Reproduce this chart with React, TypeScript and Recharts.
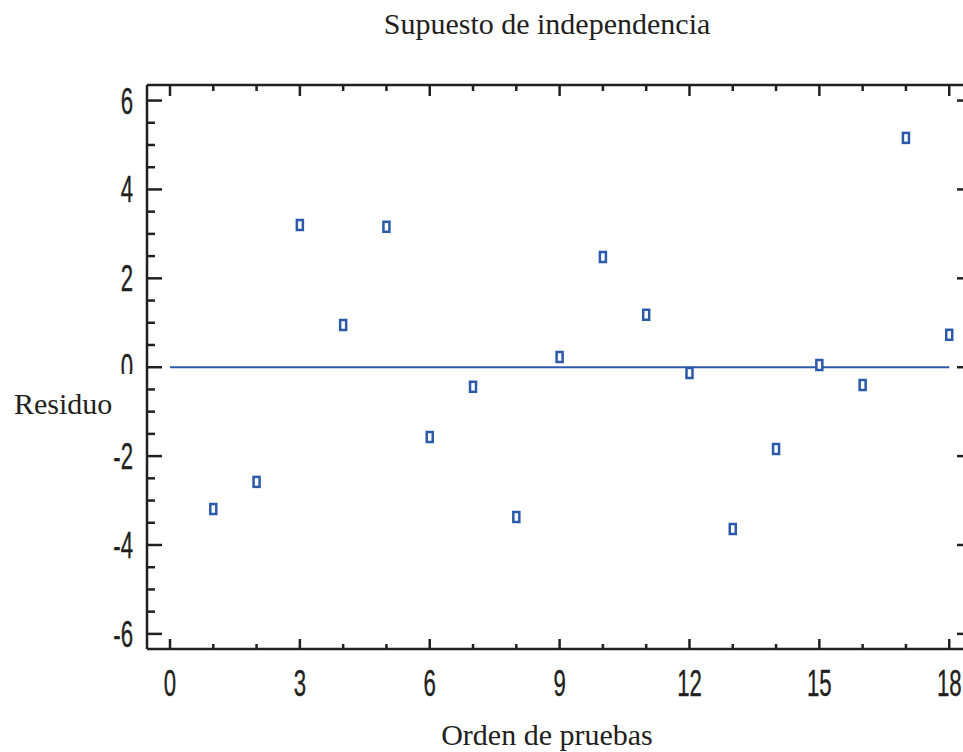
import React from 'react';
import { ScatterChart, Scatter, XAxis, YAxis, ReferenceLine } from 'recharts';

// run order 1..18 and the residual at each run
const runOrder = [1, 2, 3, 4, 5, 6, 7, 8, 9, 10, 11, 12, 13, 14, 15, 16, 17, 18];
const residuals = [-3.19, -2.58, 3.2, 0.95, 3.16, -1.57, -0.44, -3.37, 0.23, 2.48, 1.18, -0.13, -3.64, -1.84, 0.05, -0.4, 5.16, 0.73];

const xTicks = [0, 1, 2, 3, 4, 5, 6, 7, 8, 9, 10, 11, 12, 13, 14, 15, 16, 17, 18];
const yTicks = [-6, -5.5, -5, -4.5, -4, -3.5, -3, -2.5, -2, -1.5, -1, -0.5, 0, 0.5, 1, 1.5, 2, 2.5, 3, 3.5, 4, 4.5, 5, 5.5, 6];

const data = runOrder.map((x, i) => ({ x, y: residuals[i] }));

const INK = '#231f20';
const BLUE = '#2c5aab';
const NUM_FONT = '"Liberation Sans", Arial, sans-serif';
const SERIF = '"Liberation Serif", "Times New Roman", serif';
// condensed sans look for the tick numbers
const NUM_SIZE = 37;
const SQUEEZE = 0.6;

const isMajorX = (v: number) => v % 3 === 0;
const isMajorY = (v: number) => v % 2 === 0;

const NarrowText = ({ x, y, anchor, children }: any) => (
  <text
    transform={`translate(${x},${y}) scale(${SQUEEZE},1)`}
    textAnchor={anchor}
    fontFamily={NUM_FONT}
    fontSize={NUM_SIZE}
    fill={INK}
    stroke={INK}
    strokeWidth={0.4}
  >
    {children}
  </text>
);

// bottom axis: ticks point up into the plot, labels below
const BottomTick = ({ x, y, payload }: any) => {
  const major = isMajorX(payload.value);
  return (
    <g>
      <line x1={x} x2={x} y1={y} y2={y - (major ? 10 : 5)} stroke={INK} strokeWidth={2.5} />
      {major && <NarrowText x={x} y={y + 47} anchor="middle">{payload.value}</NarrowText>}
    </g>
  );
};

const TopTick = ({ x, y, payload }: any) => {
  const major = isMajorX(payload.value);
  return <line x1={x} x2={x} y1={y} y2={y + (major ? 11 : 6)} stroke={INK} strokeWidth={2.5} />;
};

const LeftTick = ({ x, y, payload }: any) => {
  const major = isMajorY(payload.value);
  return (
    <g>
      <line x1={x} x2={x + (major ? 15 : 8)} y1={y} y2={y} stroke={INK} strokeWidth={2.5} />
      {major && <NarrowText x={x - 14} y={y + 13} anchor="end">{payload.value}</NarrowText>}
    </g>
  );
};

const RightTick = ({ x, y, payload }: any) => {
  const major = isMajorY(payload.value);
  return <line x1={x} x2={x - (major ? 15 : 8)} y1={y} y2={y} stroke={INK} strokeWidth={2.5} />;
};

// hollow upright rectangle marker
const BoxMarker = ({ cx, cy }: any) => (
  <rect x={cx - 3} y={cy - 5} width={6} height={10} fill="#fff" stroke={BLUE} strokeWidth={2.5} />
);

const axisLine = { stroke: INK, strokeWidth: 2.5 };

export default function App() {
  return (
    <div style={{ position: 'absolute', left: 0, top: 0, width: 963, height: 752, overflow: 'hidden', background: '#fff' }}>
      <ScatterChart width={975} height={752} margin={{ top: 84, right: 2, bottom: 102, left: 146 }}>
        <XAxis
          type="number"
          dataKey="x"
          domain={[-0.531, 18.526]}
          allowDataOverflow
          ticks={xTicks}
          interval={0}
          height={1}
          tickSize={0}
          tickMargin={0}
          axisLine={axisLine}
          tick={<BottomTick />}
        />
        <XAxis
          xAxisId="top"
          orientation="top"
          type="number"
          dataKey="x"
          domain={[-0.531, 18.526]}
          allowDataOverflow
          ticks={xTicks}
          interval={0}
          height={1}
          tickSize={0}
          tickMargin={0}
          axisLine={axisLine}
          tick={<TopTick />}
        />
        <YAxis
          type="number"
          dataKey="y"
          domain={[-6.34, 6.35]}
          allowDataOverflow
          ticks={yTicks}
          interval={0}
          width={1}
          tickSize={0}
          tickMargin={0}
          axisLine={axisLine}
          tick={<LeftTick />}
        />
        <YAxis
          yAxisId="right"
          orientation="right"
          type="number"
          dataKey="y"
          domain={[-6.34, 6.35]}
          allowDataOverflow
          ticks={yTicks}
          interval={0}
          width={1}
          tickSize={0}
          tickMargin={0}
          axisLine={axisLine}
          tick={<RightTick />}
        />
        <ReferenceLine
          segment={[{ x: 0, y: 0 }, { x: 18, y: 0 }]}
          stroke={BLUE}
          strokeWidth={2}
        />
        <Scatter data={data} shape={<BoxMarker />} isAnimationActive={false} />
      </ScatterChart>
      <div style={{ position: 'absolute', left: 547, top: 9, transform: 'translateX(-50%)', whiteSpace: 'nowrap', fontFamily: SERIF, fontSize: 30, color: INK, lineHeight: '30px' }}>
        Supuesto de independencia
      </div>
      <div style={{ position: 'absolute', left: 0, top: 374, width: 135, height: 60, background: '#fff', fontFamily: SERIF, fontSize: 30, color: INK }}>
        <span style={{ position: 'absolute', left: 14, top: 15, lineHeight: '30px' }}>Residuo</span>
      </div>
      <div style={{ position: 'absolute', left: 547, top: 720, transform: 'translateX(-50%)', whiteSpace: 'nowrap', fontFamily: SERIF, fontSize: 30, color: INK, lineHeight: '30px' }}>
        Orden de pruebas
      </div>
    </div>
  );
}
